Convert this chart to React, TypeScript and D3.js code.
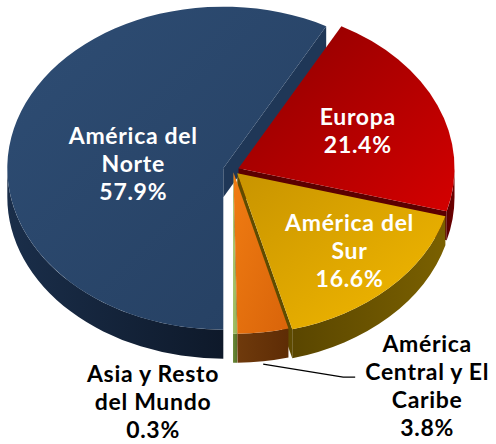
import React from "react";
import * as d3 from "d3";

// shares of the total, clockwise starting at 6 o'clock
const regions = ["América del Norte", "Europa", "América del Sur", "América Central y El Caribe", "Asia y Resto del Mundo"];
const shares = [57.9, 21.4, 16.6, 3.8, 0.3];
const labelLines = [
  ["América del", "Norte"],
  ["Europa"],
  ["América del", "Sur"],
  ["América", "Central y El", "Caribe"],
  ["Asia y Resto", "del Mundo"],
];

// look
const topFill = [["#2e4d74", "#253f61"], ["#8c0000", "#d40000"], ["#c89400", "#f4b900"], ["#f07c12", "#d9640a"], ["#b3cf77", "#93b158"]];
const wallFill = [["#1a2e4a", "#0e192a"], ["#5a0000", "#700000"], ["#5a4600", "#7a6000"], ["#6f3a0c", "#5e2c05"], ["#6b8a38", "#56722a"]];
const cutFill = ["#1f3757", "#5c0000", "#5f4b00", "#7a3f08", "#5d7a2f"];
const explode = [10, 6, 6, 3, 3];
const labelR = [0.43, 0.6, 0.74, 1, 1];
const labelOff = [[0, 13], [0, 0], [0, -8], [164, 54], [-82, 68]];
const outside = [false, false, false, true, true];

const W = 496, H = 444;
const cx = 233, cy = 170, rx = 216, ry = 161.5, depth = 29;
const lh = 28, fs = 23;

type Pt = [number, number];

export default function App() {
  const arcs = d3.pie<number>().sort(null).startAngle(Math.PI).endAngle(3 * Math.PI)(shares);

  const slices = arcs.map((a, i) => {
    const mid = (a.startAngle + a.endAngle) / 2;
    const ox = explode[i] * Math.sin(mid);
    const oy = -explode[i] * (ry / rx) * Math.cos(mid);
    const pt = (ang: number, r = 1, dz = 0): Pt => [ox + cx + r * rx * Math.sin(ang), oy + cy - r * ry * Math.cos(ang) + dz];
    return { a, i, mid, pt, apex: pt(0, 0) };
  });

  const f = (p: Pt) => `${p[0].toFixed(2)},${p[1].toFixed(2)}`;

  // walls (outer front part + visible cut faces), painter-sorted
  const walls: { d: string; fill: string; key: number }[] = [];
  slices.forEach(({ a, i, pt, apex }) => {
    const a0 = a.startAngle, a1 = a.endAngle;
    const fronts = [[Math.PI / 2, 1.5 * Math.PI], [2.5 * Math.PI, 3.5 * Math.PI]];
    fronts.forEach(([lo, hi]) => {
      const s = Math.max(a0, lo), e = Math.min(a1, hi);
      if (e - s <= 0.001) return;
      const large = e - s > Math.PI ? 1 : 0;
      const d = `M${f(pt(s))}A${rx},${ry} 0 ${large} 1 ${f(pt(e))}L${f(pt(e, 1, depth))}A${rx},${ry} 0 ${large} 0 ${f(pt(s, 1, depth))}Z`;
      walls.push({ d, fill: `url(#wall${i})`, key: pt((s + e) / 2)[1] + 40 });
    });
    const cut = (ang: number) => {
      const d = `M${f(apex)}L${f(pt(ang))}L${f(pt(ang, 1, depth))}L${f([apex[0], apex[1] + depth])}Z`;
      walls.push({ d, fill: cutFill[i], key: pt(ang, 0.5)[1] });
    };
    if (Math.sin(a0) < -0.01) cut(a0);
    if (Math.sin(a1) > 0.01) cut(a1);
  });
  walls.sort((p, q) => p.key - q.key);

  const tops = slices.map(({ a, i, pt, apex }) => {
    const large = a.endAngle - a.startAngle > Math.PI ? 1 : 0;
    return { i, d: `M${f(apex)}L${f(pt(a.startAngle))}A${rx},${ry} 0 ${large} 1 ${f(pt(a.endAngle))}Z` };
  });

  const central = slices[3];
  const cOut = central.pt(central.mid, 1, depth + 3);
  const cAnchor: Pt = [cOut[0] + labelOff[3][0], cOut[1] - depth - 3 + labelOff[3][1]];

  return (
    <svg width={W} height={H} style={{ position: "absolute", left: 0, top: 0 }} fontFamily="Lato, 'Open Sans', sans-serif">
      <defs>
        {topFill.map((c, i) => (
          <linearGradient key={"t" + i} id={`top${i}`} x1="0" y1="0" x2="1" y2="1">
            <stop offset="0" stopColor={c[0]} />
            <stop offset="1" stopColor={c[1]} />
          </linearGradient>
        ))}
        {wallFill.map((c, i) => (
          <linearGradient key={"w" + i} id={`wall${i}`} x1="0" y1="0" x2="1" y2="0">
            <stop offset="0" stopColor={c[0]} />
            <stop offset="1" stopColor={c[1]} />
          </linearGradient>
        ))}
      </defs>
      <g>
        {walls.map((w, k) => (
          <path key={k} d={w.d} fill={w.fill} />
        ))}
      </g>
      <g>
        {tops.map((t) => (
          <path key={t.i} d={t.d} fill={`url(#top${t.i})`} />
        ))}
      </g>
      <polyline
        points={`${f(cOut)} ${f([cAnchor[0] - 84, cAnchor[1] - 9])} ${f([cAnchor[0] - 72, cAnchor[1] - 9])}`}
        fill="none"
        stroke="#000"
        strokeWidth={1.3}
      />
      {slices.map(({ i, mid, pt }) => {
        const base = outside[i] ? pt(mid, 1) : pt(mid, labelR[i]);
        const x = base[0] + labelOff[i][0];
        const y = base[1] + labelOff[i][1];
        const lines = [...labelLines[i], `${shares[i].toFixed(1)}%`];
        const n = lines.length;
        return (
          <text
            key={regions[i]}
            x={x}
            textAnchor="middle"
            fontSize={fs}
            fontWeight={700}
            letterSpacing={0.7}
            fill={outside[i] ? "#000" : "#fff"}
          >
            {lines.map((s, k) => (
              <tspan key={k} x={x} y={y + (k - (n - 1) / 2) * lh + 8.3}>
                {s}
              </tspan>
            ))}
          </text>
        );
      })}
    </svg>
  );
}
